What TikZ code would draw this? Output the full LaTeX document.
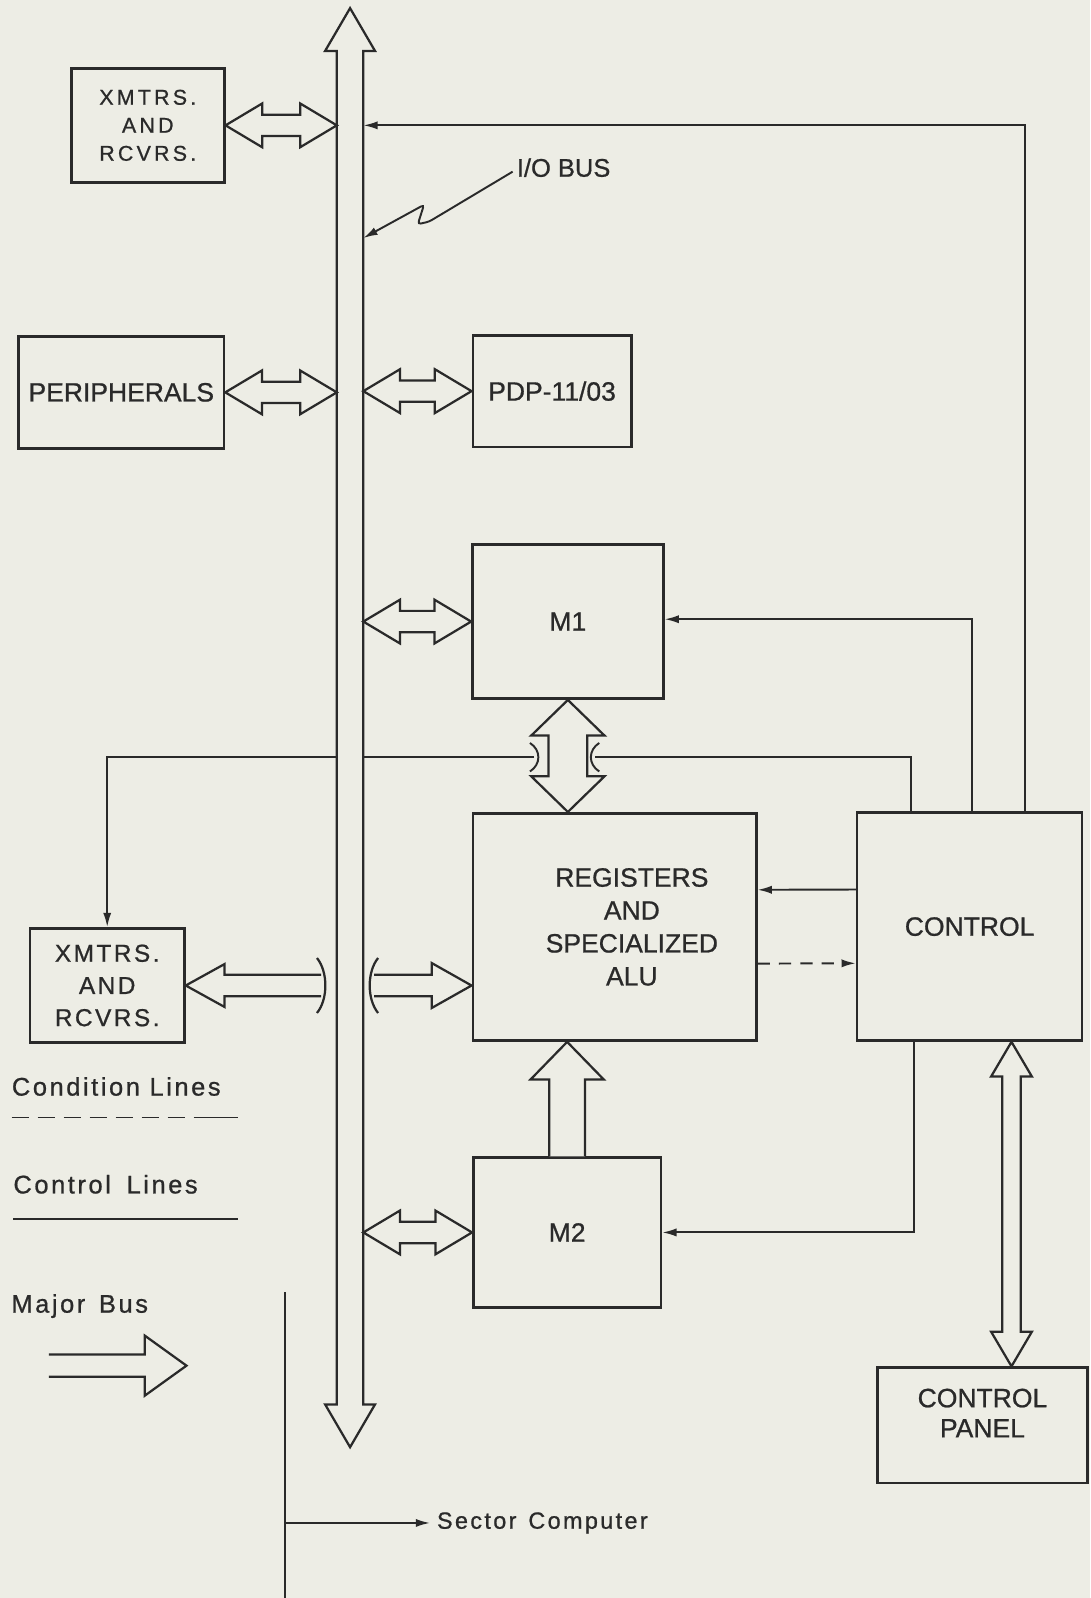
\documentclass[tikz,border=0pt]{standalone}
\usepackage{fontspec}
\setmainfont{Liberation Sans}[FakeBold=0.8]
\newfontfamily\spaced{Liberation Sans}[LetterSpace=10,FakeBold=0.8]
\newfontfamily\wide{Liberation Sans}[LetterSpace=15,FakeBold=0.8]
\usetikzlibrary{calc,arrows.meta}
\definecolor{paper}{RGB}{237,237,229}
\definecolor{ink}{RGB}{42,42,42}

% fat bus arrow with two heads: end, end, head length, head half width, shaft half width
\newcommand\bothway[5]{%
  \draw[fat] (#1) -- ($(#1)!#3!(#2)!#4!90:(#2)$) -- ($(#1)!#3!(#2)!#5!90:(#2)$)
    -- ($(#2)!#3!(#1)!#5!-90:(#1)$) -- ($(#2)!#3!(#1)!#4!-90:(#1)$) -- (#2)
    -- ($(#2)!#3!(#1)!#4!90:(#1)$) -- ($(#2)!#3!(#1)!#5!90:(#1)$)
    -- ($(#1)!#3!(#2)!#5!-90:(#2)$) -- ($(#1)!#3!(#2)!#4!-90:(#2)$) -- cycle;}
% fat bus arrow with one head and an open tail: tip, tail, head length, head half, shaft half
\newcommand\oneway[5]{%
  \draw[fat] ($(#2)!#5!-90:(#1)$) -- ($(#1)!#3!(#2)!#5!90:(#2)$) -- ($(#1)!#3!(#2)!#4!90:(#2)$) -- (#1)
    -- ($(#1)!#3!(#2)!#4!-90:(#2)$) -- ($(#1)!#3!(#2)!#5!-90:(#2)$) -- ($(#2)!#5!90:(#1)$);}
% crossing mark: point, +1 bulges right / -1 bulges left, half height
\newcommand\hop[4][fat]{%
  \draw[#1,fill=none] ([shift={(-4*#3,-#4)}]#2) .. controls ([shift={(7*#3,-0.5*#4)}]#2)
    and ([shift={(7*#3,0.5*#4)}]#2) .. ([shift={(-4*#3,#4)}]#2);}

\begin{document}
\begin{tikzpicture}[x=1pt,y=-1pt,
  box/.style={draw=ink,line width=2.6pt,inner sep=0pt,align=center,text=ink,font=\fontsize{26}{32}\selectfont},
  lbl/.style={inner sep=0pt,text=ink,font=\fontsize{25}{30}\selectfont},
  legend/.style={inner sep=0pt,text=ink,font=\spaced\fontsize{25}{30}\selectfont},
  ctl/.style={draw=ink,line width=1.9pt},
  ctlarrow/.style={-{Latex[length=14pt,width=8pt]}},
  fat/.style={draw=ink,line width=2.2pt,fill=paper,line join=miter}]
\useasboundingbox (0,0) rectangle (1070,1568);
\fill[paper] (0,0) rectangle (1070,1568);

% boxes
\node[box,minimum width=150pt,minimum height=112pt,font=\wide\fontsize{21}{27.5}\selectfont] (xmtA) at (145,123) {XMTRS.\\AND\\RCVRS.};
\node[box,minimum width=201.5pt,minimum height=110pt] (peri) at (119,385) {PERIPHERALS};
\node[box,minimum width=155.4pt,minimum height=109.5pt] (pdp) at (541.7,383.8) {PDP-11/03};
\node[box,minimum width=187.2pt,minimum height=151.2pt] (m1) at (557.2,609.9) {M1};
\node[box,minimum width=278pt,minimum height=223pt,
  label={[box,draw=none,xshift=17pt,font=\fontsize{26}{32.3}\selectfont]center:{REGISTERS\\AND\\SPECIALIZED\\ALU}}] (regs) at (603,909.5) {};
\node[box,minimum width=220.8pt,minimum height=223.6pt] (ctrl) at (951.4,909.2) {CONTROL};
\node[box,minimum width=151.5pt,minimum height=112pt,font=\spaced\fontsize{24}{31.6}\selectfont] (xmtB) at (105.2,967) {XMTRS.\\AND\\RCVRS.};
\node[box,minimum width=184pt,minimum height=146.7pt] (m2) at (556.5,1209.3) {M2};
\node[box,minimum width=206pt,minimum height=113pt,
  label={[box,draw=none,yshift=12pt,font=\fontsize{26}{29.6}\selectfont]center:{CONTROL\\PANEL}}] (panel) at (964,1398.5) {};

% texts
\node[lbl,anchor=base west] (iolbl) at (507,173.4) {I/O BUS};
\node[legend,anchor=base west] (condlbl) at (11.5,1075) {Condition Lines};
\node[legend,anchor=base west] (ctllbl) at (13,1171) {Control\hspace{6pt} Lines};
\node[legend,anchor=base west] (buslbl) at (11,1288) {Major\hspace{4pt} Bus};
\node[legend,anchor=base west,inner xsep=6.6pt,font=\spaced\fontsize{23}{28}\selectfont] (sector) at (422,1500) {Sector\hspace{3pt} Computer};

\coordinate (bustop) at (343.5,8);
\coordinate (busbot) at (343.5,1420);
\coordinate (busL) at (330.5,0);
\coordinate (busR) at (356.5,0);
\coordinate (hopA) at (524,743);
\coordinate (hopB) at (584,743);
\coordinate (hopC) at (315,967);
\coordinate (hopD) at (367,967);
\coordinate (pnl) at (992.5,0);
\coordinate (ioarr) at (356.5,233.6);
\coordinate (sectop) at (280,1268);
\coordinate (secbot) at (280,1568);
\coordinate (majtip) at (183,1340);
\coordinate (majtail) at (48,1340);

% control lines
\draw[ctl,ctlarrow] ([xshift=54.4pt]ctrl.north) |- (busR |- xmtA.east);
\draw[ctl,ctlarrow] ([xshift=2.3pt]ctrl.north) |- ([yshift=2.3pt]m1.east);
\draw[ctl] ([xshift=-57.5pt]ctrl.north) |- (hopB);
\draw[ctl,ctlarrow] (hopA) -| (xmtB.north);
\draw[ctl,ctlarrow] ([yshift=36.4pt]ctrl.west) -- ([yshift=36.4pt]regs.east);
\draw[ctl,ctlarrow,dash pattern=on 12pt off 9pt] ([yshift=-36pt]regs.east) -- ([yshift=-36pt]ctrl.west);
\draw[ctl,ctlarrow] ([xshift=-54.5pt]ctrl.south) |- (m2.east);
\draw[ctl,ctlarrow,rounded corners=3pt] ([shift={(-4pt,-4pt)}]iolbl.west) -- (421,217.5) -- (410,220) -- (416,201) -- (ioarr);
\hop[ctl]{hopA}{1}{14}
\hop[ctl]{hopB}{-1}{14}

% buses
\bothway{bustop}{busbot}{42pt}{24.5pt}{13pt}
\foreach \n in {xmtA,peri}{\bothway{\n.east}{busL |- \n.east}{36pt}{21.5pt}{10.5pt}}
\foreach \n in {pdp,m1,m2}{\bothway{busR |- \n.west}{\n.west}{36pt}{21.5pt}{10.5pt}}
\bothway{m1.south}{m1.south |- regs.north}{35pt}{36pt}{19pt}
\oneway{m2.north |- regs.south}{m2.north}{37pt}{36pt}{17.5pt}
\bothway{ctrl.south -| pnl}{panel.north -| pnl}{34pt}{20pt}{9pt}
\oneway{xmtB.east}{hopC}{38pt}{21pt}{10.5pt}
\oneway{regs.west |- hopD}{hopD}{39pt}{22pt}{10.5pt}
\hop{hopC}{1}{27}
\hop{hopD}{-1}{27}

% legend
\draw[ctl,dash pattern=on 17pt off 8.5pt] (11.5,1096.5) -- (181.5,1096.5);
\draw[ctl] (190,1096.5) -- (234,1096.5);
\draw[ctl] (13,1196) -- (234,1196);
\oneway{majtip}{majtail}{41pt}{29.5pt}{11pt}
\draw[ctl] (sectop) -- (secbot);
\draw[ctl,ctlarrow] (sectop |- sector.west) -- (sector.west);
\end{tikzpicture}
\end{document}
